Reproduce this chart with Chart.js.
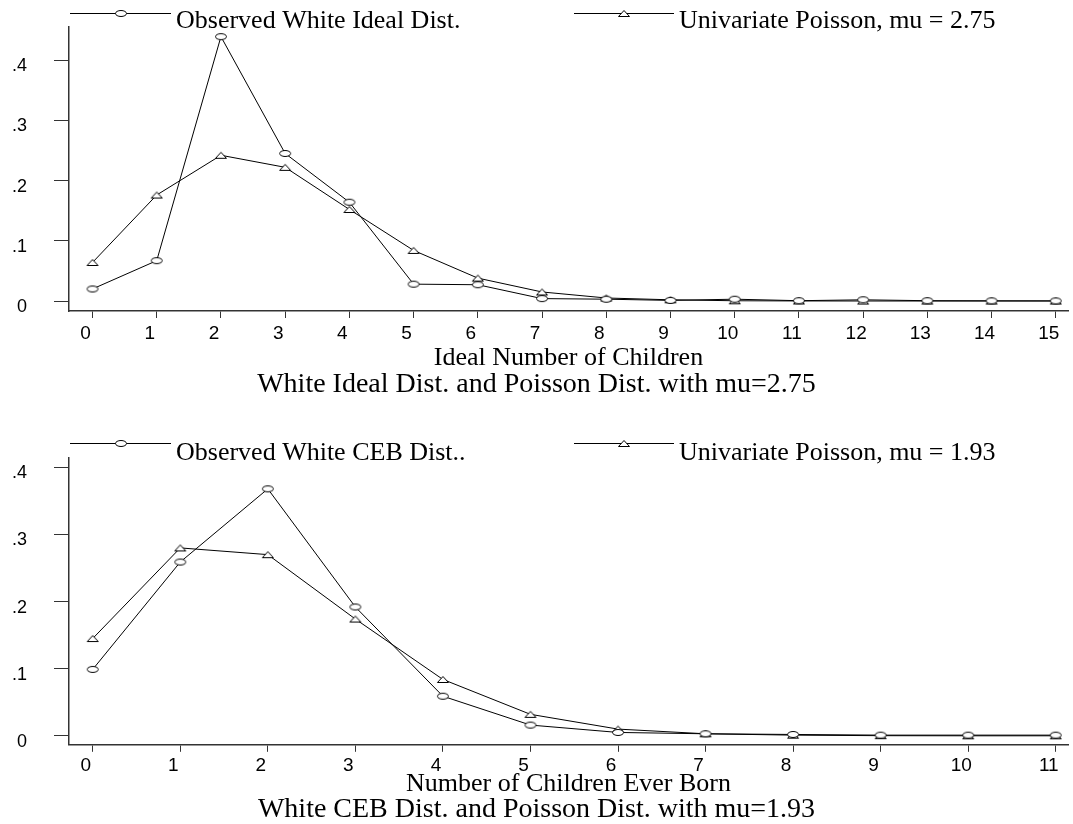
<!DOCTYPE html>
<html>
<head>
<meta charset="utf-8">
<script src="https://cdn.jsdelivr.net/npm/chart.js@4.4.0/dist/chart.umd.min.js"></script>
<style>
  html, body { margin: 0; padding: 0; background: #fff; }
  #wrap { position: relative; width: 1073px; height: 824px; }
  .box { position: absolute; left: 0; width: 1073px; height: 400px; }
</style>
</head>
<body>
<div id="wrap">
  <div class="box" style="top:0"><canvas id="ideal" width="1073" height="400"></canvas></div>
  <div class="box" style="top:424px"><canvas id="ceb" width="1073" height="400"></canvas></div>
</div>
<script>
// ideal number of children (top panel)
const idealKids = [0, 1, 2, 3, 4, 5, 6, 7, 8, 9, 10, 11, 12, 13, 14, 15];
const idealObserved = [0.020, 0.067, 0.439, 0.245, 0.164, 0.028, 0.027, 0.004, 0.003, 0.001, 0.003, 0.0005, 0.002, 0.0005, 0.0003, 0.0002];
const idealPoisson = [0.064, 0.176, 0.242, 0.222, 0.152, 0.084, 0.038, 0.015, 0.005, 0.002, 0.0004, 0.0001, 0, 0, 0, 0];

// children ever born (bottom panel)
const cebKids = [0, 1, 2, 3, 4, 5, 6, 7, 8, 9, 10, 11];
const cebObserved = [0.099, 0.259, 0.368, 0.192, 0.059, 0.016, 0.005, 0.003, 0.002, 0.001, 0.001, 0.001];
const cebPoisson = [0.145, 0.280, 0.270, 0.174, 0.084, 0.032, 0.010, 0.003, 0.001, 0.0002, 0, 0];

const yTicks = [0, 0.1, 0.2, 0.3, 0.4];

// hollow markers, a bit flattened like the original
function makeMarker(shape) {
  const c = document.createElement('canvas');
  c.width = 14;
  c.height = 9;
  const g = c.getContext('2d');
  g.strokeStyle = '#000';
  g.fillStyle = '#fff';
  g.lineWidth = 1;
  g.beginPath();
  if (shape === 'circle') {
    g.ellipse(7, 4.5, 5.5, 3, 0, 0, Math.PI * 2);
  } else {
    g.moveTo(7, 1.5);
    g.lineTo(12.5, 7.5);
    g.lineTo(1.5, 7.5);
    g.closePath();
  }
  g.fill();
  g.stroke();
  return c;
}
const circleMark = makeMarker('circle');
const triMark = makeMarker('triangle');

// legend drawn as: line with marker in the middle, then the label
const lineLegend = {
  id: 'lineLegend',
  afterDraw(chart, args, opts) {
    const ctx = chart.ctx;
    ctx.save();
    chart.data.datasets.forEach((ds, i) => {
      const it = opts.items[i];
      ctx.strokeStyle = '#000';
      ctx.lineWidth = 1;
      ctx.beginPath();
      ctx.moveTo(it.x0, opts.y + 0.5);
      ctx.lineTo(it.x1, opts.y + 0.5);
      ctx.stroke();
      const img = ds.pointStyle;
      ctx.drawImage(img, Math.round((it.x0 + it.x1) / 2 - img.width / 2), Math.round(opts.y - img.height / 2));
      ctx.font = '26px "Liberation Serif"';
      ctx.fillStyle = '#000';
      ctx.textBaseline = 'alphabetic';
      ctx.textAlign = 'left';
      ctx.fillText(ds.label, it.x1 + 5, opts.textY);
    });
    ctx.restore();
  }
};

function buildChart(id, s) {
  const series = (vals) => s.kids.map((k, i) => ({ x: k, y: vals[i] }));
  return new Chart(document.getElementById(id), {
    type: 'line',
    data: {
      datasets: [
        {
          label: s.obsLabel,
          data: series(s.obs),
          borderColor: '#000',
          borderWidth: 1,
          pointStyle: circleMark,
          tension: 0
        },
        {
          label: s.poisLabel,
          data: series(s.pois),
          borderColor: '#000',
          borderWidth: 1,
          pointStyle: triMark,
          tension: 0
        }
      ]
    },
    options: {
      responsive: false,
      animation: false,
      events: [],
      layout: { padding: { top: s.padTop, left: 0, right: 0, bottom: 0 } },
      plugins: {
        legend: { display: false },
        tooltip: { enabled: false },
        title: {
          display: true,
          text: s.title,
          position: 'bottom',
          color: '#000',
          font: { family: '"Liberation Serif"', size: 28, weight: 'normal', lineHeight: s.titleLH },
          padding: { top: 0, bottom: s.titlePadBottom }
        },
        lineLegend: {
          y: s.legendY,
          textY: s.legendTextY,
          items: [{ x0: 70, x1: 171 }, { x0: 574, x1: 674 }]
        }
      },
      scales: {
        x: {
          type: 'linear',
          min: s.xMin,
          max: s.xMax,
          afterBuildTicks: sc => { sc.ticks = s.kids.map(v => ({ value: v })); },
          afterFit: sc => {
            sc.height = s.xAxisHeight;
            sc.paddingLeft = 0;
            sc.paddingRight = 0;
          },
          grid: { drawOnChartArea: false, drawTicks: true, tickLength: 7, tickColor: '#333', tickWidth: 1 },
          border: { color: '#333', width: 1.5 },
          ticks: {
            color: '#000',
            font: { family: '"Liberation Sans"', size: 19 },
            padding: s.xTickPad,
            labelOffset: -7,
            autoSkip: false,
            maxRotation: 0,
            callback: v => String(v)
          },
          title: {
            display: true,
            text: s.xTitle,
            color: '#000',
            font: { family: '"Liberation Serif"', size: 26, lineHeight: 1 },
            padding: { top: 0, bottom: 0 }
          }
        },
        y: {
          min: s.yMin,
          max: s.yMax,
          afterBuildTicks: sc => { sc.ticks = yTicks.map(v => ({ value: v })); },
          afterFit: sc => {
            sc.width = 69;
            sc.paddingTop = 0;
            sc.paddingBottom = 0;
          },
          grid: { drawOnChartArea: false, drawTicks: true, tickLength: 15, tickColor: '#333', tickWidth: 1 },
          border: { color: '#333', width: 1.5 },
          ticks: {
            color: '#000',
            font: { family: '"Liberation Sans"', size: 18 },
            padding: 27,
            labelOffset: 6,
            callback: v => v === 0 ? '0' : String(v).replace(/^0/, '')
          }
        }
      }
    },
    plugins: [lineLegend]
  });
}

buildChart('ideal', {
  kids: idealKids, obs: idealObserved, pois: idealPoisson,
  obsLabel: 'Observed White Ideal Dist.',
  poisLabel: 'Univariate Poisson, mu = 2.75',
  xTitle: 'Ideal Number of Children',
  title: 'White Ideal Dist. and Poisson Dist. with mu=2.75',
  xMin: -0.366, xMax: 15.19, yMin: -0.0166, yMax: 0.455,
  padTop: 27, xAxisHeight: 60, titleLH: 1, titlePadBottom: 1, xTickPad: 4,
  legendY: 13, legendTextY: 28
});

buildChart('ceb', {
  kids: cebKids, obs: cebObserved, pois: cebPoisson,
  obsLabel: 'Observed White CEB Dist..',
  poisLabel: 'Univariate Poisson, mu = 1.93',
  xTitle: 'Number of Children Ever Born',
  title: 'White CEB Dist. and Poisson Dist. with mu=1.93',
  xMin: -0.271, xMax: 11.14, yMin: -0.0134, yMax: 0.414,
  padTop: 34, xAxisHeight: 52, titleLH: 0.9, titlePadBottom: 2, xTickPad: 3,
  legendY: 19, legendTextY: 36
});
</script>
</body>
</html>
